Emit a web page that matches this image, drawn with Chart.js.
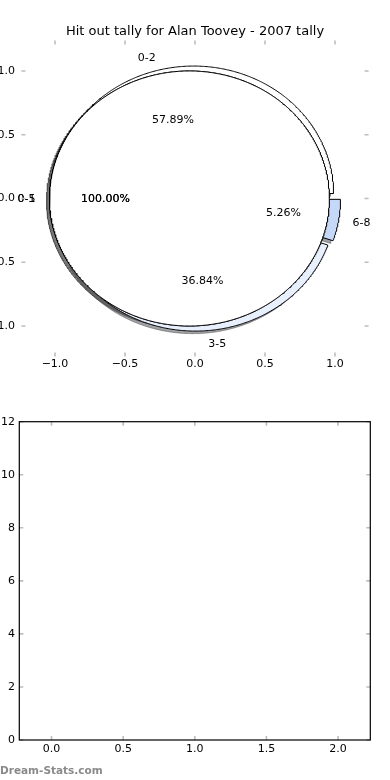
<!DOCTYPE html>
<html><head><meta charset="utf-8">
<script src="https://cdn.jsdelivr.net/npm/chart.js@4.4.0/dist/chart.umd.min.js"></script>
<style>
html,body{margin:0;padding:0;background:#fff;}
body{width:390px;height:780px;position:relative;overflow:hidden;font-family:"DejaVu Sans";}
#c1{position:absolute;left:0;top:0;}
#c2{position:absolute;left:0;top:390px;}
#wm{position:absolute;left:0;top:763px;font:bold 10.5px "DejaVu Sans";line-height:14px;color:#8a8a8a;white-space:nowrap;}
</style></head><body>
<canvas id="c1" width="390" height="390"></canvas>
<canvas id="c2" width="390" height="390"></canvas>
<div id="wm">Dream-Stats.com</div>
<script>
// ---- data ----
const chartTitle = 'Hit out tally for Alan Toovey - 2007 tally';
const pieLabels = ['0-2', '3-5', '6-8'];
const pieValues = [11, 7, 1];
const pieColors = ['#ffffff', '#e8effd', '#c6d8f8'];
const fullPieLabels = ['0-5', '0-1'];
const fullPieValues = [19, 19];
const pieTicks = [-1, -0.5, 0, 0.5, 1];
const barXTicks = [0, 0.5, 1, 1.5, 2];
const barYTicks = [0, 2, 4, 6, 8, 10, 12];

Chart.defaults.font.family = 'DejaVu Sans';
Chart.defaults.color = '#000';

const EXPLODE = 0.04, LABEL_D = 1.1, PCT_D = 0.6, SH = -0.02;

function buildWedges(values, labels, colors) {
  const total = values.reduce((a, b) => a + b, 0);
  let t1 = 0;
  const out = [];
  values.forEach((v, i) => {
    const frac = v / total;
    const t2 = t1 + 360 * frac;
    const tm = (t1 + t2) / 2 * Math.PI / 180;
    const cx = EXPLODE * Math.cos(tm), cy = EXPLODE * Math.sin(tm);
    const full = Math.abs(frac - 1) < 1e-9;
    const pts = [];
    if (!full) pts.push({x: cx, y: cy});
    const n = Math.max(2, Math.ceil((t2 - t1) * 2));
    for (let k = 0; k <= n; k++) {
      const a = (t1 + (t2 - t1) * k / n) * Math.PI / 180;
      pts.push({x: cx + Math.cos(a), y: cy + Math.sin(a)});
    }
    if (!full) pts.push({x: cx, y: cy});
    out.push({
      pts, color: colors[i % colors.length], label: labels[i],
      pct: (frac * 100).toFixed(2) + '%',
      lx: cx + LABEL_D * Math.cos(tm), ly: cy + LABEL_D * Math.sin(tm),
      px: cx + PCT_D * Math.cos(tm), py: cy + PCT_D * Math.sin(tm)
    });
    t1 = t2;
  });
  return out;
}

function shadowColor(hex) {
  const r = parseInt(hex.substr(1, 2), 16), g = parseInt(hex.substr(3, 2), 16), b = parseInt(hex.substr(5, 2), 16);
  return `rgba(${Math.round(r * 0.3)},${Math.round(g * 0.3)},${Math.round(b * 0.3)},0.5)`;
}

const pieA = buildWedges(pieValues, pieLabels, pieColors);
const pieB = fullPieLabels.map((l, j) => buildWedges([fullPieValues[j]], [l], pieColors)[0]);
const allWedges = pieA.concat(pieB);

const layers = [];
allWedges.forEach(w => layers.push({
  data: w.pts.map(p => ({x: p.x + SH, y: p.y + SH})),
  backgroundColor: shadowColor(w.color), borderColor: shadowColor(w.color)
}));
allWedges.forEach(w => layers.push({
  data: w.pts, backgroundColor: w.color, borderColor: '#000'
}));
const pieDatasets = layers.map((l, i) => Object.assign(l, {
  showLine: true, fill: 'shape', borderWidth: 1, pointRadius: 0, pointHoverRadius: 0,
  tension: 0, order: layers.length - i
}));

const fmt = v => {
  const s = Number(v).toFixed(1);
  return s.startsWith('-') ? '\u2212' + s.slice(1) : s;
};

const mplAxes = {
  id: 'mplAxes',
  afterDraw(chart, args, opts) {
    const {ctx, chartArea: a, scales: {x, y}} = chart;
    const L = 4;
    ctx.save();
    ctx.strokeStyle = '#bdbdbd';
    ctx.lineWidth = 1.6;
    ctx.beginPath();
    x.ticks.forEach(t => {
      const p = x.getPixelForValue(t.value);
      ctx.moveTo(p, a.top); ctx.lineTo(p, a.top + L);
      ctx.moveTo(p, a.bottom); ctx.lineTo(p, a.bottom - L);
    });
    y.ticks.forEach(t => {
      const p = y.getPixelForValue(t.value);
      ctx.moveTo(a.left, p); ctx.lineTo(a.left + L, p);
      ctx.moveTo(a.right, p); ctx.lineTo(a.right - L, p);
    });
    ctx.stroke();
    if (opts.frame) {
      ctx.strokeStyle = '#000';
      ctx.lineWidth = 1.2;
      ctx.strokeRect(a.left, a.top, a.right - a.left, a.bottom - a.top);
    }
    ctx.restore();
  }
};

const pieText = {
  id: 'pieText',
  afterDatasetsDraw(chart) {
    const {ctx, scales: {x, y}} = chart;
    ctx.save();
    ctx.font = '11px "DejaVu Sans"';
    ctx.fillStyle = '#000';
    ctx.textBaseline = 'middle';
    allWedges.forEach(w => {
      ctx.textAlign = w.lx > 0 ? 'left' : 'right';
      ctx.fillText(w.label, x.getPixelForValue(w.lx), y.getPixelForValue(w.ly) + 1);
      ctx.textAlign = 'center';
      ctx.fillText(w.pct, x.getPixelForValue(w.px), y.getPixelForValue(w.py) + 1);
    });
    ctx.restore();
  }
};

function axisOpts(min, max, tickList, padding, fitFn) {
  return {
    type: 'linear', min, max,
    afterBuildTicks: s => { s.ticks = tickList.map(v => ({value: v})); },
    ticks: {font: {size: 11}, color: '#000', padding, maxRotation: 0, autoSkip: false, callback: v => fmt(v)},
    grid: {display: false, drawTicks: false},
    border: {display: false},
    afterFit: fitFn
  };
}

// invisible right-side spacer axis so the title is centred on the full canvas
const spacerAxis = w => ({
  type: 'linear', position: 'right', min: 0, max: 1, display: true,
  ticks: {display: false}, grid: {display: false, drawTicks: false}, border: {display: false},
  afterFit: s => { s.width = w; }
});

new Chart(document.getElementById('c1'), {
  type: 'scatter',
  data: {datasets: pieDatasets},
  options: {
    responsive: false, animation: false, events: [],
    devicePixelRatio: 1,
    layout: {padding: 0},
    plugins: {
      legend: {display: false}, tooltip: {enabled: false},
      title: {display: true, text: chartTitle, color: '#000',
        font: {size: 13, weight: 'normal'}, padding: {top: 24, bottom: 0.8}},
      mplAxes: {frame: false}
    },
    scales: {
      x: axisOpts(-1.24, 1.24, pieTicks, 1.3, s => { s.height = 33.4; }),
      y: axisOpts(-1.24, 1.24, pieTicks, 6.4, s => { s.width = 21.4; }),
      yR: spacerAxis(21.4)
    }
  },
  plugins: [mplAxes, pieText]
});

const barX = axisOpts(-0.225, 2.225, barXTicks, 2.4, s => { s.height = 40; });
const barY = axisOpts(0, 12, barYTicks, 4.3, s => { s.width = 19.3; });
barY.ticks.callback = v => String(v);

new Chart(document.getElementById('c2'), {
  type: 'scatter',
  data: {datasets: []},
  options: {
    responsive: false, animation: false, events: [],
    devicePixelRatio: 1,
    layout: {padding: {left: 0, right: 19.7, top: 31.7, bottom: 0}},
    plugins: {legend: {display: false}, tooltip: {enabled: false}, mplAxes: {frame: true}},
    scales: {x: barX, y: barY}
  },
  plugins: [mplAxes]
});
</script>
</body></html>
